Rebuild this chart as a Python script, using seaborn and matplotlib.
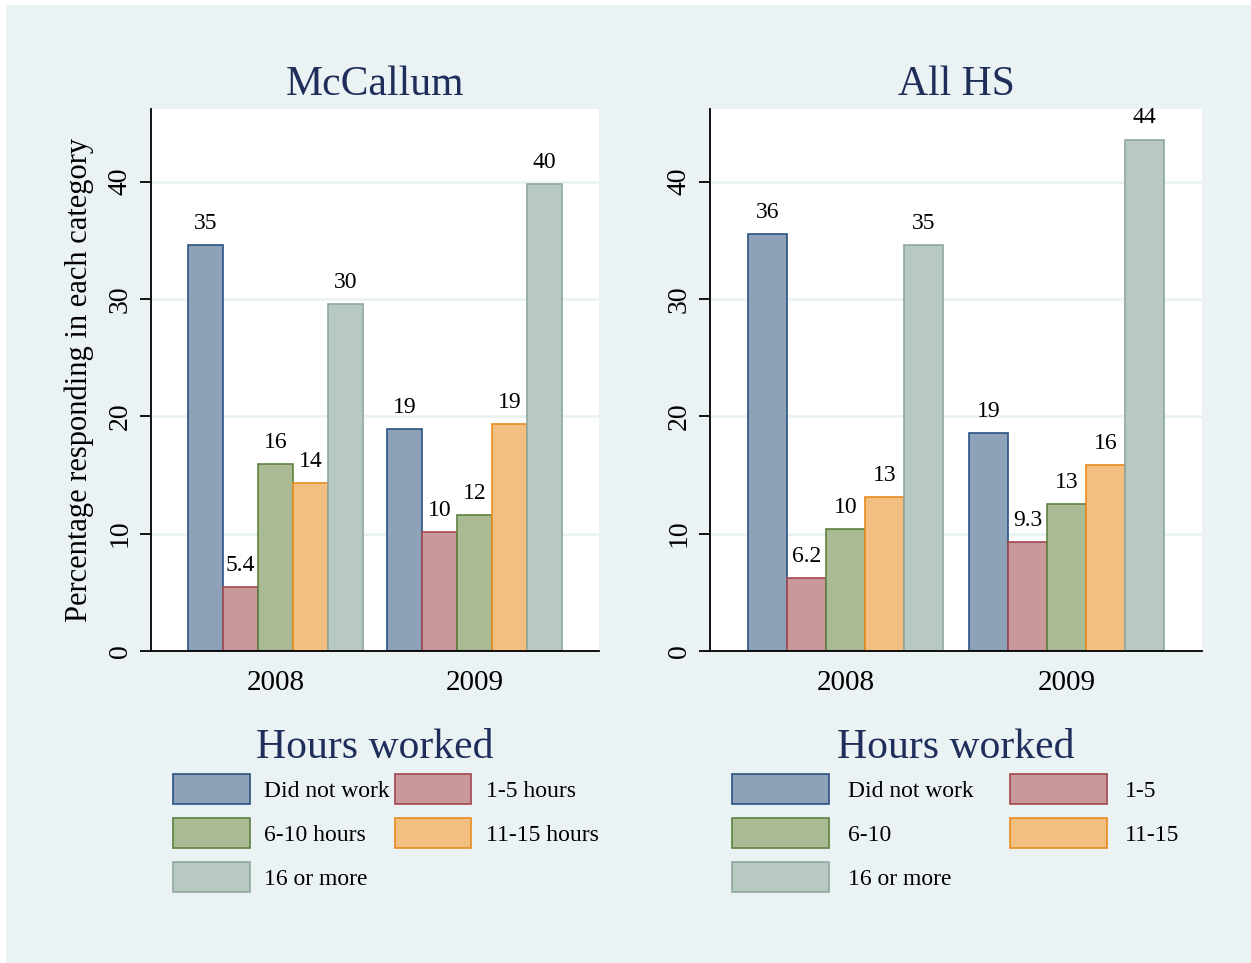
import pandas as pd
import seaborn as sns
import matplotlib.pyplot as plt
from matplotlib.patches import Rectangle

# chart values
years = ['2008', '2009']
categories = ['Did not work', '1-5', '6-10', '11-15', '16 or more']
mccallum_labels = ['Did not work', '1-5 hours', '6-10 hours', '11-15 hours', '16 or more']
allhs_labels = ['Did not work', '1-5', '6-10', '11-15', '16 or more']
mccallum_2008 = [34.6, 5.44, 15.95, 14.33, 29.6]
mccallum_2009 = [18.93, 10.15, 11.6, 19.36, 39.83]
allhs_2008 = [35.56, 6.23, 10.4, 13.13, 34.6]
allhs_2009 = [18.6, 9.3, 12.55, 15.86, 43.6]

fills = ['#8DA2B8', '#C8989B', '#AABA94', '#F1BF80', '#B8C9C2']
edges = ['#2A5283', '#A3474F', '#5E8140', '#E88C1F', '#8FA89F']
navy = '#1E2D5A'
bg = '#EAF2F3'

plt.rcParams['font.family'] = ['Liberation Serif', 'DejaVu Serif']


def make_df(v2008, v2009):
    rows = []
    for year, vals in zip(years, [v2008, v2009]):
        for cat, v in zip(categories, vals):
            rows.append({'Year': year, 'Hours': cat, 'Pct': v})
    return pd.DataFrame(rows)


W, H = 1251, 963
fig = plt.figure(figsize=(12.51, 9.63), dpi=100, facecolor='white')
fig.patches.append(Rectangle((6 / W, 0), 1, 1 - 5 / H, transform=fig.transFigure,
                             facecolor=bg, edgecolor='none', zorder=-10))

panels = [
    ('McCallum', mccallum_2008, mccallum_2009, mccallum_labels,
     [151 / W, 1 - 651 / H, 448 / W, 542 / H], -0.626, 1.626,
     dict(handlelength=3.25, handletextpad=0.62, columnspacing=0.2), 386, 375),
    ('All HS', allhs_2008, allhs_2009, allhs_labels,
     [710 / W, 1 - 651 / H, 492 / W, 542 / H], -0.613, 1.613,
     dict(handlelength=4.1, handletextpad=0.78, columnspacing=1.55), 956, 956),
]

for i, (title, v8, v9, labels, pos, x0, x1, legkw, legx, titx) in enumerate(panels):
    ax = fig.add_axes(pos)
    df = make_df(v8, v9)
    sns.barplot(data=df, x='Year', y='Pct', hue='Hours', hue_order=categories,
                palette=fills, width=0.88, saturation=1, ax=ax, legend=False,
                errorbar=None)
    for cont, ec in zip(ax.containers, edges):
        for bar in cont:
            bar.set_edgecolor(ec)
            bar.set_linewidth(1.2)
        ax.bar_label(cont, labels=['{:.2g}'.format(b.get_height()) for b in cont],
                     padding=8, fontsize=17)
    ax.set_facecolor('white')
    ax.set_xlim(x0, x1)
    ax.set_ylim(0, 46.2)
    ax.set_yticks([0, 10, 20, 30, 40])
    ax.yaxis.grid(True, color=bg, linewidth=2)
    ax.set_axisbelow(True)
    for s in ['top', 'right']:
        ax.spines[s].set_visible(False)
    for s in ['left', 'bottom']:
        ax.spines[s].set_linewidth(1.3)
        ax.spines[s].set_color('black')
    ax.tick_params(axis='x', length=0, labelsize=21, pad=14)
    ax.tick_params(axis='y', length=8, width=1.3, labelsize=20, pad=5)
    for t in ax.get_yticklabels():
        t.set_rotation(90)
        t.set_va('center')
    ax.set_xlabel('')
    if i == 0:
        ax.set_ylabel('Percentage responding in each category', fontsize=22, labelpad=10)
    else:
        ax.set_ylabel('')
    ax.set_title(title, fontsize=30, color=navy, pad=10)

    # legend: entries in row order, title placed on its own
    handles = list(ax.containers)
    order = [0, 2, 4, 1, 3]
    fig.legend([handles[k][0] for k in order], [labels[k] for k in order],
               loc='upper center', bbox_to_anchor=(legx / W, 1 - 774 / H),
               ncol=2, frameon=False, fontsize=17, borderpad=0, borderaxespad=0,
               handleheight=1.55, labelspacing=0.62, **legkw)
    fig.text(titx / W, 1 - 758 / H, 'Hours worked', fontsize=30, color=navy,
             ha='center', va='baseline')

fig.savefig('out.png', dpi=100, facecolor=fig.get_facecolor())
